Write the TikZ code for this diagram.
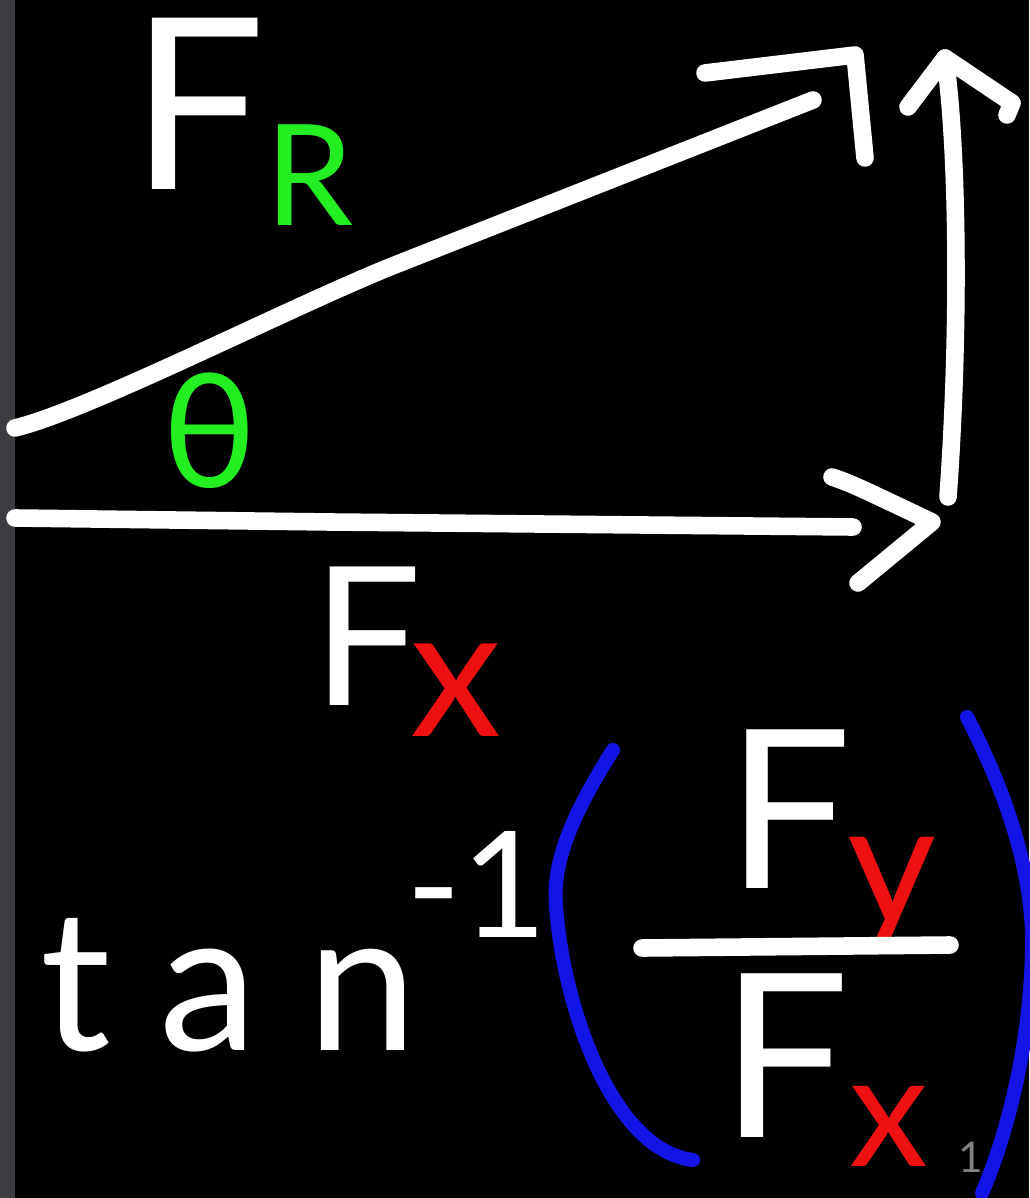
\documentclass[tikz,border=0pt]{standalone}
\usepackage{fontspec}
\setmainfont{Lato}
\usetikzlibrary{calc,positioning}
\definecolor{chalkgreen}{HTML}{22EE22}
\definecolor{chalkred}{HTML}{EE1111}
\definecolor{chalkblue}{HTML}{1414E6}
\definecolor{sidebar}{HTML}{3B3C40}
\newcommand{\fsz}[1]{\fontsize{#1}{#1}\selectfont}
\tikzset{
  stroke/.style={white, line width=5pt, line cap=round, line join=round},
  paren/.style={stroke, chalkblue, line width=4pt},
  chalk/.style={inner sep=0pt, outer sep=0pt, anchor=base west, text=white},
}

\begin{document}
\begin{tikzpicture}[x=0.01cm, y=-0.01cm]
  \fill[black] (0,0) rectangle (1029,1198);
  \fill[sidebar] (0,0) rectangle (15,1198);
  \useasboundingbox (0,0) rectangle (1029,1198);

  \coordinate (h0) at (15,428);
  \coordinate (h1) at (90,410);
  \coordinate (h2) at (300,302);
  \coordinate (h3) at (400,263);
  \coordinate (h4) at (813,100);
  \coordinate (hl) at (705,73);
  \coordinate (ht) at (855,55);
  \coordinate (hr) at (865,158);

  \coordinate (x0) at (15,518);
  \coordinate (x1) at (330,522);
  \coordinate (x2) at (853,527);
  \coordinate (xl) at (832,477);
  \coordinate (xt) at (932,522);
  \coordinate (xr) at (858,583);

  \coordinate (y0) at (948,497);
  \coordinate (y1) at (960,330);
  \coordinate (y2) at (958,150);
  \coordinate (y3) at (945,58);
  \coordinate (yl) at (908,107);
  \coordinate (yr) at (1012,103);

  \draw[stroke] (h0) .. controls (h1) and (h2) .. (h3) -- (h4);
  \draw[stroke] (hl) -- (ht) -- (hr);
  \draw[stroke] (x0) -- (x1) -- (x2);
  \draw[stroke] (xl) .. controls (852,484) .. (xt) -- (xr);
  \draw[stroke] (y0) .. controls (y1) and (y2) .. (y3);
  \draw[stroke] (yl) -- (y3) -- (yr) -- ++(-5,12);

  \node[chalk, text height=50pt] at (130,190) (fr)
    {\fsz{68}F\raisebox{-10pt}{\fsz{40}\color{chalkgreen}R}};
  \node[chalk, text=chalkgreen, anchor=base] at (210,488) (theta) {\fsz{45}θ};
  \node[chalk] at (312,705) (fx)
    {\fsz{55}F\hspace{-3pt}\raisebox{-9pt}{\fsz{52}\color{chalkred}x}};

  \node[chalk] at (40,1050) (tan)
    {\fsz{56}t\hspace{0.25em}a\hspace{0.25em}n\hspace{-0.05em}\raisebox{32pt}{\fsz{42}-1}};

  \coordinate (lp0) at (613,750);
  \coordinate (lp1) at (556,905);
  \coordinate (lp2) at (693,1160);
  \coordinate (rp0) at (967,717);
  \coordinate (rp1) at (1032,950);
  \coordinate (rp2) at (982,1193);
  \draw[paren] (lp0) .. controls (575,810) and (552,860) .. (lp1)
    .. controls (562,1000) and (610,1150) .. (lp2);
  \draw[paren] (rp0) .. controls (1010,800) and (1034,880) .. (rp1)
    .. controls (1030,1050) and (1005,1140) .. (rp2);

  \node[chalk] at (726,888) (num)
    {\fsz{63}F\hspace{-1pt}\raisebox{-10.5pt}{\fsz{49}\color{chalkred}y}};
  \coordinate (b0) at (642,948);
  \coordinate (b1) at (950,945);
  \draw[stroke] (b0) -- (b1);
  \node[chalk] at (720,1137) (den)
    {\fsz{65}F\raisebox{-8.5pt}{\fsz{45}\color{chalkred}x}};
  \node[chalk, text=gray] at (958,1172) (page) {\fsz{12}1};
\end{tikzpicture}
\end{document}
